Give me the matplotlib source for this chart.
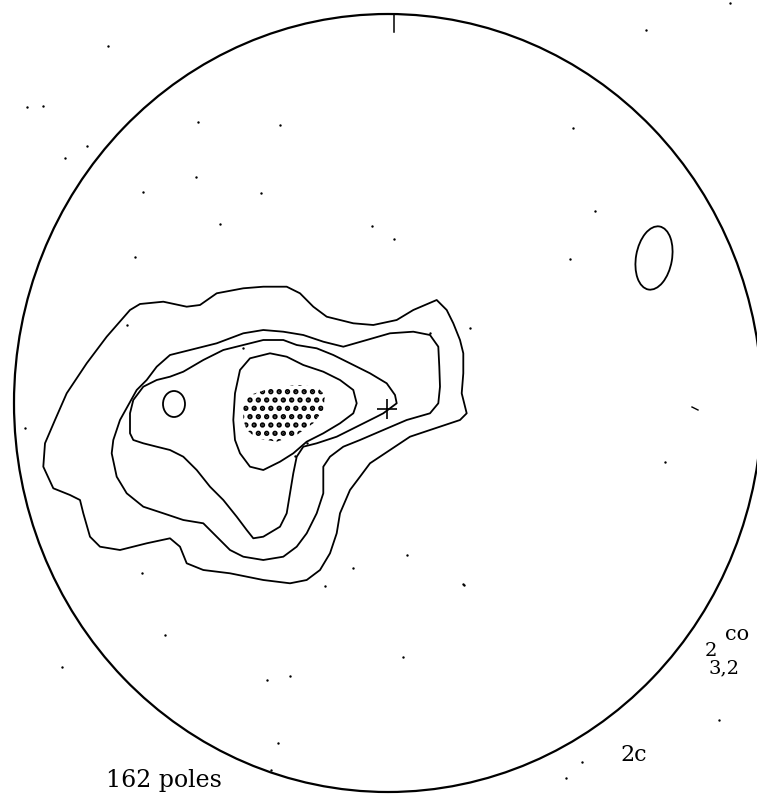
import matplotlib
matplotlib.use("Agg")
import matplotlib.pyplot as plt
from matplotlib.patches import Ellipse, Polygon

# stereonet (as scanned, slightly oval)
net_center = (388, 403)
net_width, net_height = 748, 778

# contour outlines, traced in net/page units (x right, y down)
c1_x = [53.3, 43.3, 45, 55, 66.7, 86.7, 106.7, 130, 140, 163.3, 186.7, 200, 216.7, 243.3,
        263.3, 286.7, 300, 313.3, 326.7, 353.3, 373.3, 396.7, 413.3, 436.7, 446.7, 453.3,
        460, 463.3, 463.3, 461.7, 466.7, 460, 430, 410, 390, 370, 360, 350, 340, 336.7,
        330, 320, 306.7, 290, 263.3, 230, 203.3, 186.7, 180, 170, 146.7, 120, 100, 90,
        83.3, 80, 70]
c1_y = [488.3, 466.7, 443.3, 420, 393.3, 363.3, 336.7, 310, 304, 301.7, 306.7, 305, 293.3,
        288.3, 286.7, 286.7, 293.3, 306.7, 316.7, 323.3, 325, 320, 310, 300, 310, 323.3,
        340, 353.3, 373.3, 393.3, 413.3, 420, 430, 436.7, 450, 463.3, 476.7, 490, 513.3,
        533.3, 553.3, 570, 580, 583.3, 580, 573.3, 570, 563.3, 546.7, 538.3, 543.3, 550,
        546.7, 536.7, 513.3, 500, 495]

c2_x = [111.7, 113.3, 120, 136.7, 146.7, 156.7, 170, 190, 216.7, 243.3, 263.3, 283.3,
        303.3, 323.3, 343.3, 366.7, 390, 413.3, 430, 438.3, 439.3, 440, 438.3, 430, 406.7,
        383.3, 360, 343.3, 330, 323.3, 323.3, 316.7, 306.7, 296.7, 283.3, 263.3, 243.3,
        230, 216.7, 203.3, 183.3, 163.3, 143.3, 126.7, 116.7]
c2_y = [453.3, 440, 420, 390, 380, 366.7, 355, 350, 343.3, 333.3, 330, 331.7, 335, 341.7,
        346.7, 340, 333.3, 331.7, 335, 346.7, 366.7, 386.7, 403.3, 413.3, 420, 430, 440,
        446.7, 456.7, 466.7, 493.3, 513.3, 533.3, 546.7, 556.7, 560, 556.7, 550, 536.7,
        523.3, 520, 513.3, 506.7, 493.3, 476.7]

c3_x = [130, 130, 133.3, 143.3, 156.7, 170, 183.3, 203.3, 223.3, 243.3, 263.3, 283.3,
        296.7, 316.7, 333.3, 350, 370, 386.7, 395, 396.7, 383.3, 376.7, 356.7, 336.7,
        316.7, 303.3, 296.7, 293.3, 290, 286.7, 280, 263.3, 253.3, 246.7, 236.7, 223.3,
        210, 196.7, 183.3, 170, 156.7, 143.3, 133.3]
c3_y = [433.3, 413.3, 400, 386.7, 380, 376.7, 371.7, 360, 350, 345, 340, 340, 345, 348.3,
        355, 363.3, 373.3, 383.3, 395, 403.3, 413.3, 416.7, 426.7, 436.7, 443.3, 446.7,
        456.7, 473.3, 493.3, 513.3, 526.7, 536.7, 538.3, 530, 516.7, 500, 486.7, 470,
        456.7, 450, 446.7, 443.3, 440]

c4_x = [233.3, 235, 240, 250, 270, 286.7, 303.3, 323.3, 340, 353.3, 356.7, 353.3, 340,
        323.3, 306.7, 293.3, 280, 263.3, 250, 240, 235]
c4_y = [420, 393.3, 370, 358.3, 353.3, 356.7, 365, 371.7, 380, 390, 403.3, 413.3, 423.3,
        433.3, 441.7, 453.3, 461.7, 470, 466.7, 453.3, 440]

# highest-density area (stippled)
max_x = [243.3, 243.3, 250, 270, 296.7, 316.7, 325, 323.3, 313.3, 296.7, 276.7, 256.7, 246.7]
max_y = [420, 403.3, 395, 388.3, 385, 386.7, 395, 410, 423.3, 435, 441.7, 438.3, 430]

# small isolated closed contours: (x, y, width, height, angle)
islands = [(174, 404, 22, 26, 0), (654, 258, 36, 64, 10)]

# mean pole
mean_pole = (387, 409)

# scattered single poles
pole_x = [108, 43, 27, 87, 65, 198, 280, 196, 143, 261, 220, 372, 394, 135, 573, 646,
          730, 595, 570, 325, 464, 165, 62, 403, 267, 290, 278, 271, 582, 566, 719,
          127, 243, 470, 430, 407, 353, 463, 142, 295, 307, 25, 665]
pole_y = [46, 106, 107, 146, 158, 122, 125, 177, 192, 193, 224, 226, 239, 257, 128, 30,
          3, 211, 259, 586, 585, 635, 667, 657, 680, 676, 743, 770, 762, 778, 720,
          325, 348, 328, 333, 555, 568, 584, 573, 456, 443, 428, 462]

fig = plt.figure(figsize=(7.57, 7.94), dpi=100)
ax = fig.add_axes([0, 0, 1, 1])
ax.set_xlim(0, 757)
ax.set_ylim(794, 0)
ax.axis("off")

ax.add_patch(Ellipse(net_center, net_width, net_height, fill=False, ec="black", lw=1.6))
ax.plot([394, 394], [15, 32], color="black", lw=1.1)

for xs, ys in [(c1_x, c1_y), (c2_x, c2_y), (c3_x, c3_y), (c4_x, c4_y)]:
    ax.add_patch(Polygon(list(zip(xs, ys)), closed=True, fill=False, ec="black",
                         lw=1.3, joinstyle="round"))

plt.rcParams["hatch.linewidth"] = 2.6
ax.add_patch(Polygon(list(zip(max_x, max_y)), closed=True, fill=False, ec="black",
                     lw=0, hatch=".."))

for x, y, w, h, a in islands:
    ax.add_patch(Ellipse((x, y), w, h, angle=a, fill=False, ec="black", lw=1.3))

ax.plot(*mean_pole, marker="+", ms=15, mew=1.2, color="black")
ax.scatter(pole_x, pole_y, s=3, color="black", lw=0)
ax.plot([692, 698], [407, 410], color="black", lw=1.0)

font = dict(family="DejaVu Serif", color="black")
ax.text(106, 780, "162 poles", fontsize=17, va="center", ha="left", **font)
ax.text(620, 755, "2c", fontsize=16, va="center", ha="left", **font)
ax.text(725, 634, "co", fontsize=15, va="center", ha="left", **font)
ax.text(705, 651, "2", fontsize=14, va="center", ha="left", **font)
ax.text(709, 668, "3,2", fontsize=14, va="center", ha="left", **font)

fig.savefig("out.png", dpi=100)
